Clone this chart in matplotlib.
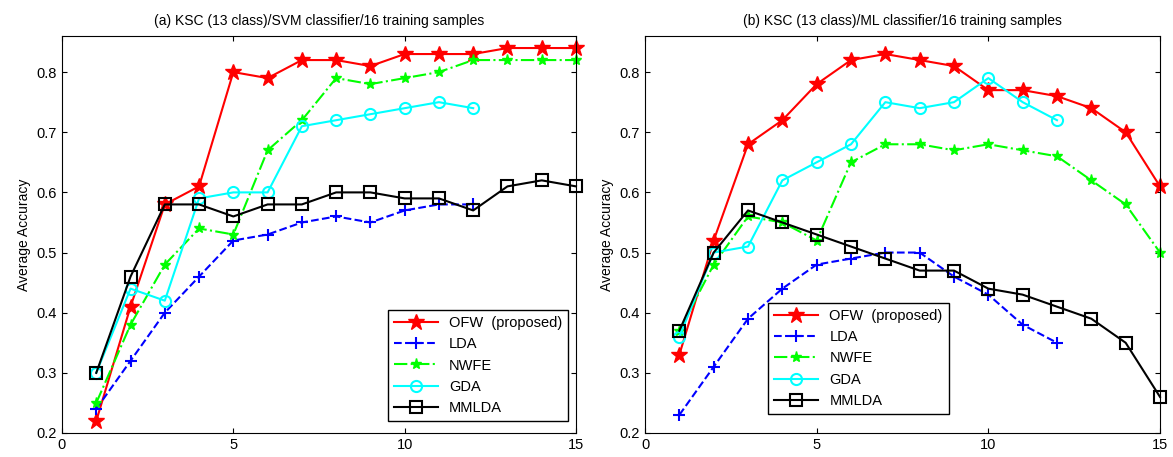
import matplotlib.pyplot as plt

plt.rcParams['font.family'] = ['Liberation Sans', 'DejaVu Sans']

x = list(range(1, 16))
x12 = list(range(1, 13))

# (a) SVM classifier
svm_ofw = [0.22, 0.41, 0.58, 0.61, 0.80, 0.79, 0.82, 0.82, 0.81, 0.83, 0.83, 0.83, 0.84, 0.84, 0.84]
svm_lda = [0.24, 0.32, 0.40, 0.46, 0.52, 0.53, 0.55, 0.56, 0.55, 0.57, 0.58, 0.58]
svm_nwfe = [0.25, 0.38, 0.48, 0.54, 0.53, 0.67, 0.72, 0.79, 0.78, 0.79, 0.80, 0.82, 0.82, 0.82, 0.82]
svm_gda = [0.30, 0.44, 0.42, 0.59, 0.60, 0.60, 0.71, 0.72, 0.73, 0.74, 0.75, 0.74]
svm_mmlda = [0.30, 0.46, 0.58, 0.58, 0.56, 0.58, 0.58, 0.60, 0.60, 0.59, 0.59, 0.57, 0.61, 0.62, 0.61]

# (b) ML classifier
ml_ofw = [0.33, 0.52, 0.68, 0.72, 0.78, 0.82, 0.83, 0.82, 0.81, 0.77, 0.77, 0.76, 0.74, 0.70, 0.61]
ml_lda = [0.23, 0.31, 0.39, 0.44, 0.48, 0.49, 0.50, 0.50, 0.46, 0.43, 0.38, 0.35]
ml_nwfe = [0.37, 0.48, 0.56, 0.55, 0.52, 0.65, 0.68, 0.68, 0.67, 0.68, 0.67, 0.66, 0.62, 0.58, 0.50]
ml_gda = [0.36, 0.50, 0.51, 0.62, 0.65, 0.68, 0.75, 0.74, 0.75, 0.79, 0.75, 0.72]
ml_mmlda = [0.37, 0.50, 0.57, 0.55, 0.53, 0.51, 0.49, 0.47, 0.47, 0.44, 0.43, 0.41, 0.39, 0.35, 0.26]

titles = ['(a) KSC (13 class)/SVM classifier/16 training samples',
          '(b) KSC (13 class)/ML classifier/16 training samples']
labels = ['OFW  (proposed)', 'LDA', 'NWFE', 'GDA', 'MMLDA']

fig = plt.figure(figsize=(11.73, 4.57), dpi=100)
ax1 = fig.add_axes([62/1173, 1 - 433/457, 514/1173, 397/457])
ax2 = fig.add_axes([645/1173, 1 - 433/457, 515/1173, 397/457])


def draw(ax, ofw, lda, nwfe, gda, mmlda, title, leg_loc):
    ax.plot(x, ofw, '-', color='red', marker='*', markersize=12, lw=1.5, label=labels[0], clip_on=False)
    ax.plot(x12, lda, '--', color='blue', marker='+', markersize=9, mew=1.5, lw=1.5, label=labels[1], clip_on=False)
    ax.plot(x, nwfe, '-.', color='#00ff00', marker='*', markersize=8, lw=1.5, label=labels[2], clip_on=False)
    ax.plot(x12, gda, '-', color='cyan', marker='o', markersize=8, mfc='none', mew=1.5, lw=1.5,
            label=labels[3], clip_on=False)
    ax.plot(x, mmlda, '-', color='black', marker='s', markersize=8, mfc='none', mew=1.5, lw=1.5,
            label=labels[4], clip_on=False)
    ax.set_xlim(0, 15)
    ax.set_ylim(0.2, 0.86)
    ax.set_xticks([0, 5, 10, 15])
    ax.set_yticks([0.2, 0.3, 0.4, 0.5, 0.6, 0.7, 0.8])
    ax.tick_params(direction='in', top=True, right=True, labelsize=10.5)
    ax.set_ylabel('Average Accuracy', fontsize=10)
    ax.set_title(title, fontsize=10, pad=8)
    leg = ax.legend(loc='lower left', bbox_to_anchor=leg_loc, fontsize=10.5,
                    fancybox=False, edgecolor='black', framealpha=1,
                    handlelength=3, borderpad=0.4, labelspacing=0.5)
    leg.get_frame().set_linewidth(1.0)
    leg.set_zorder(5)


draw(ax1, svm_ofw, svm_lda, svm_nwfe, svm_gda, svm_mmlda, titles[0], (0.62, 0.012))
draw(ax2, ml_ofw, ml_lda, ml_nwfe, ml_gda, ml_mmlda, titles[1], (0.225, 0.03))

fig.savefig('out.png', dpi=100)
